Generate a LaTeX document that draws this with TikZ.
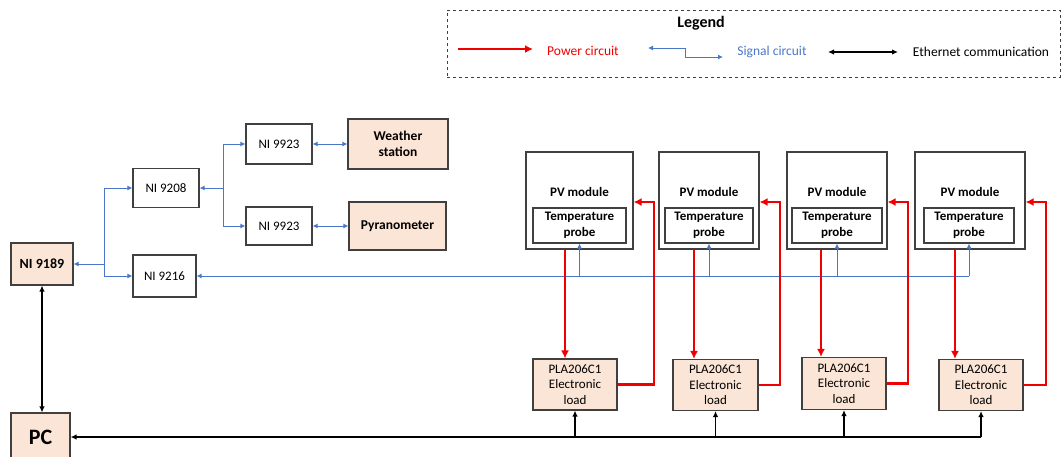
\documentclass[tikz,border=0pt]{standalone}
\usepackage{fontspec}
\setmainfont{Carlito}
\usetikzlibrary{arrows.meta,calc}
\definecolor{peach}{HTML}{FBE5D6}
\definecolor{boxc}{HTML}{404040}
\definecolor{sigc}{HTML}{4A78C8}
\definecolor{pwc}{HTML}{F00000}
\tikzset{
  box/.style={draw=boxc, line width=1.1pt, inner sep=0pt, align=center,
    font=\fontsize{13}{15.5}\selectfont},
  fbox/.style={box, fill=peach},
  bbox/.style={fbox, font=\fontsize{13.5}{16.5}\selectfont\bfseries},
  sig/.style={draw=sigc, line width=1pt, >={Latex[length=5pt,width=5pt]}},
  pw/.style={draw=pwc, line width=2.6pt, >={Latex[length=8pt,width=8pt]}},
  eth/.style={draw=black, line width=1.4pt, >={Latex[length=6pt,width=5.5pt]}},
  lbl/.style={inner sep=0pt, font=\fontsize{13.5}{16}\selectfont}
}
\begin{document}
\begin{tikzpicture}[x=1pt,y=-1pt]
\useasboundingbox (0,0) rectangle (1063,456);
% ---------- legend ----------
\node[draw=boxc, dashed, line width=1pt, minimum width=613pt, minimum height=67pt, inner sep=0pt] (legend) at (753.5,43.5) {};
\node[lbl, font=\fontsize{16}{19}\selectfont\bfseries] (legtitle) at (701,23) {Legend};
\coordinate (lp1) at (458,49); \coordinate (lp2) at (533,49);
\draw[pw,->] (lp1) -- (lp2);
\node[lbl, text=pwc] (lpt) at (583,51) {Power circuit};
\coordinate (ls1) at (648,48); \coordinate (ls2) at (723,57);
\draw[sig,<->] (ls1) -- ++(37,0) |- (ls2);
\node[lbl, text=sigc] (lst) at (772,52) {Signal circuit};
\coordinate (le1) at (828,52); \coordinate (le2) at (898,52);
\draw[eth,<->] (le1) -- (le2);
\node[lbl] (let) at (981,52) {Ethernet communication};
% ---------- left part ----------
\node[fbox, font=\fontsize{14}{16}\selectfont\bfseries, minimum width=62pt, minimum height=42pt] (ni9189) at (42,264) {NI 9189};
\node[fbox, font=\fontsize{22}{24}\selectfont\bfseries, minimum width=59pt, minimum height=48pt] (pc) at (40.5,437) {PC};
\node[box, minimum width=66pt, minimum height=39pt] (ni9208) at (166,188) {NI 9208};
\node[box, minimum width=63pt, minimum height=42pt] (ni9216) at (164.5,276) {NI 9216};
\node[box, minimum width=66pt, minimum height=40pt] (ni9923a) at (279,144) {NI 9923};
\node[box, minimum width=66pt, minimum height=38pt] (ni9923b) at (279,226) {NI 9923};
\node[bbox, minimum width=100pt, minimum height=50pt] (weather) at (398,144) {Weather\\station};
\node[bbox, minimum width=97pt, minimum height=48pt] (pyra) at (397.5,226) {Pyranometer};
\coordinate (jA) at (104,264);
\coordinate (jB) at (223,188);
\draw[sig,<-] (ni9189.east) -- (jA);
\draw[sig,->] (jA) |- (ni9208.west);
\draw[sig,->] (jA) |- (ni9216.west);
\draw[sig,<-] (ni9208.east) -- (jB);
\draw[sig,->] (jB) |- (ni9923a.west);
\draw[sig,->] (jB) |- (ni9923b.west);
\draw[sig,<->] (ni9923a.east) -- (weather.west |- ni9923a.east);
\draw[sig,<->] (ni9923b.east) -- (pyra.west |- ni9923b.east);
\draw[eth,<->] (ni9189.south) -- (ni9189.south |- pc.north);
% ---------- PV modules ----------
\foreach \i/\cx/\w/\pw/\pcx in {1/579.5/107/93/579.5, 2/709/100/88/709, 3/837/100/90/837, 4/970/110/90/969}{
  \node[box, fill=white, minimum width=\w pt, minimum height=97pt] (pv\i) at (\cx,200.5) {};
  \node[inner sep=0pt, font=\fontsize{13}{15.5}\selectfont\bfseries] (pvt\i) at (\cx,192) {PV module};
  \node[box, font=\fontsize{13}{15.7}\selectfont\bfseries, minimum width=\pw pt, minimum height=35pt] (probe\i) at (\pcx,225.5) {Temperature\\probe};
}
% ---------- loads ----------
\node[fbox, minimum width=84pt, minimum height=51pt] (load1) at (575,384.5) {PLA206C1\\Electronic\\load};
\node[fbox, minimum width=85pt, minimum height=51pt] (load2) at (715.5,385) {PLA206C1\\Electronic\\load};
\node[fbox, minimum width=84pt, minimum height=52pt] (load3) at (844,383.5) {PLA206C1\\Electronic\\load};
\node[fbox, minimum width=84pt, minimum height=51pt] (load4) at (981,385) {PLA206C1\\Electronic\\load};
% ---------- signal bus ----------
\coordinate (bus4) at (969,276);
\draw[sig,<-] (ni9216.east) -- (bus4);
\foreach \i in {1,2,3,4}{
  \draw[sig,->] (probe\i.south |- bus4) -- (probe\i.south);
}
% ---------- power circuit ----------
\coordinate (d1) at (565,0); \coordinate (d2) at (694,0);
\coordinate (d3) at (821,0); \coordinate (d4) at (955,0);
\coordinate (r1) at (654,202); \coordinate (r2) at (780,202);
\coordinate (r3) at (908,202); \coordinate (r4) at (1046,202);
\foreach \i in {1,2,3,4}{
  \draw[pw,->] (pv\i.south -| d\i) -- (load\i.north -| d\i);
  \draw[pw,->] (load\i.east) -| (r\i) -- (r\i -| pv\i.east);
}
% ---------- ethernet bus ----------
\draw[eth,->] (load4.south |- pc.east) -- (pc.east);
\foreach \i in {1,2,3,4}{
  \draw[eth,->] (load\i.south |- pc.east) -- (load\i.south);
}
\end{tikzpicture}
\end{document}
